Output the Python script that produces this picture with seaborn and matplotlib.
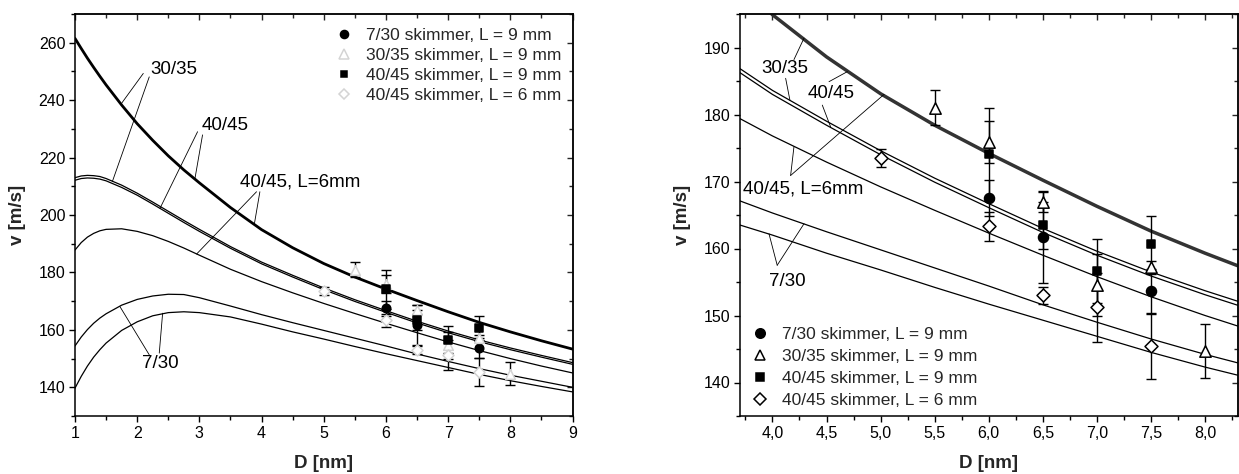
import matplotlib
matplotlib.use("Agg")
import matplotlib.pyplot as plt
import seaborn as sns
from matplotlib.ticker import MultipleLocator, FuncFormatter
from matplotlib.lines import Line2D

# ---------------- data ----------------
D_grid = [1.0, 1.1, 1.2, 1.3, 1.4, 1.5, 1.75, 2.0, 2.25, 2.5, 2.75, 3.0,
          3.5, 4.0, 4.5, 5.0, 5.5, 6.0, 6.5, 7.0, 7.5, 8.0, 8.5, 9.0]
v_thick = [261.5, 258.0, 254.6, 251.4, 248.3, 245.3, 238.3, 231.8, 226.0, 220.6, 215.7, 211.2,
           202.6, 194.9, 188.6, 183.1, 178.4, 174.2, 170.2, 166.3, 162.6, 159.3, 156.2, 153.3]
v_3035 = [213.0, 213.6, 213.8, 213.7, 213.4, 212.7, 210.4, 207.6, 204.5, 201.3, 198.1, 195.0,
          189.0, 183.6, 179.0, 174.6, 170.5, 166.7, 163.0, 159.6, 156.5, 153.7, 151.1, 148.6]
v_4045 = [212.1, 212.7, 212.9, 212.8, 212.5, 211.9, 209.6, 206.9, 203.8, 200.6, 197.4, 194.3,
          188.4, 183.0, 178.4, 174.0, 169.9, 166.1, 162.4, 159.0, 155.9, 153.1, 150.5, 148.0]
v_4045_L6 = [187.8, 190.4, 192.3, 193.6, 194.5, 195.0, 195.2, 194.3, 192.8, 190.8, 188.5, 186.0,
             181.1, 176.8, 172.9, 169.2, 165.7, 162.3, 159.0, 155.8, 152.8, 150.0, 147.4, 145.0]
v_730_a = [154.4, 157.5, 160.1, 162.3, 164.1, 165.6, 168.6, 170.6, 171.8, 172.4, 172.3, 171.2,
           168.3, 165.3, 162.5, 159.8, 157.1, 154.4, 151.6, 149.0, 146.5, 144.2, 142.1, 140.0]
v_730_b = [139.7, 143.8, 147.4, 150.5, 153.1, 155.4, 159.8, 162.8, 164.9, 166.0, 166.3, 166.0,
           164.5, 162.0, 159.3, 156.8, 154.2, 151.7, 149.3, 146.9, 144.5, 142.3, 140.3, 138.4]

# measurements
D_730 = [6.0, 6.5, 7.5]
v_730 = [167.5, 161.7, 153.6]
e_730 = [2.7, 6.9, 3.4]

D_3035 = [5.5, 6.0, 6.5, 7.0, 7.5, 8.0]
v_3035m = [181.0, 175.9, 167.0, 154.6, 157.2, 144.7]
e_3035 = [2.6, 3.2, 1.5, 4.6, 1.0, 4.0]

D_4045 = [6.0, 6.5, 7.0, 7.5]
v_4045m = [174.1, 163.5, 156.6, 160.7]
e_4045 = [6.9, 3.5, 4.8, 4.1]

D_4045L6 = [5.0, 6.0, 6.5, 7.0, 7.5]
v_4045L6m = [173.5, 163.3, 153.0, 151.2, 145.4]
e_4045L6 = [1.3, 2.2, 1.3, 5.2, 4.9]

legend_labels = ["7/30 skimmer, L = 9 mm", "30/35 skimmer, L = 9 mm",
                 "40/45 skimmer, L = 9 mm", "40/45 skimmer, L = 6 mm"]

# curve labels: text, text anchor, pointer segments (start, end)
left_notes = [
    ("30/35", (2.216, 250.5), [((2.098, 249.3), (1.739, 238.6)), ((2.194, 248.1), (1.600, 211.6))]),
    ("40/45", (3.035, 231.3), [((2.971, 229.0), (2.366, 202.3)), ((3.051, 227.9), (2.928, 212.6))]),
    ("40/45, L=6mm", (3.651, 211.6), [((3.919, 208.1), (2.955, 186.4)), ((3.973, 208.1), (3.882, 196.6))]),
    ("7/30", (2.071, 148.4), [((2.194, 151.3), (1.720, 168.2)), ((2.355, 151.9), (2.409, 165.8))]),
]
right_notes = [
    ("30/35", (3.896, 186.8), [((4.199, 188.2), (4.292, 191.4)), ((4.122, 185.4), (4.162, 182.1))]),
    ("40/45", (4.322, 183.2), [((4.523, 184.9), (4.693, 186.4)), ((4.461, 181.4), (4.539, 178.1))]),
    ("40/45, L=6mm", (3.730, 168.9), [((4.168, 170.9), (5.032, 183.0)), ((4.168, 170.9), (4.199, 175.2))]),
    ("7/30", (3.968, 155.0), [((4.044, 157.5), (3.968, 162.2)), ((4.044, 157.5), (4.292, 163.7))]),
]

# ---------------- style ----------------
sns.set_theme(style="ticks")
plt.rcParams["font.family"] = ["Liberation Sans", "DejaVu Sans"]
plt.rcParams["axes.linewidth"] = 1.1

W, H = 1239, 474
fig = plt.figure(figsize=(W / 100, H / 100), dpi=100)
ax1 = fig.add_axes([75 / W, 1 - 416 / H, 497.5 / W, 402 / H])
ax2 = fig.add_axes([740 / W, 1 - 416 / H, 497.5 / W, 402 / H])


def draw_panel(ax, thick_lw, thick_color, open_edge, ms_scale, notes):
    thin = dict(color="black", lw=0.9, estimator=None, sort=False, legend=False)
    for v in (v_3035, v_4045, v_4045_L6, v_730_a, v_730_b):
        sns.lineplot(x=D_grid, y=v, ax=ax, **thin)
    sns.lineplot(x=D_grid, y=v_thick, ax=ax, color=thick_color, lw=thick_lw,
                 estimator=None, sort=False, legend=False)

    series = [
        (D_730, v_730, e_730, "o", "black", "black", 7.2),
        (D_3035, v_3035m, e_3035, "^", "white", open_edge, 8.2),
        (D_4045, v_4045m, e_4045, "s", "black", "black", 6.2),
        (D_4045L6, v_4045L6m, e_4045L6, "D", "white", open_edge, 6.6),
    ]
    handles = []
    for D, v, e, mk, fc, ec, ms in series:
        ax.errorbar(D, v, yerr=e, fmt="none", ecolor="black", elinewidth=1.0,
                    capsize=3.3, capthick=1.0, zorder=4)
    for D, v, e, mk, fc, ec, ms in series:
        ms2 = ms * ms_scale
        sns.scatterplot(x=D, y=v, ax=ax, marker=mk, s=ms2 ** 2, color=fc,
                        edgecolor=ec, linewidth=1.1, zorder=5, legend=False)
        handles.append(Line2D([], [], ls="none", marker=mk, markersize=ms2 * 0.95,
                              markerfacecolor=fc, markeredgecolor=ec, markeredgewidth=1.1))

    for txt, (tx, ty), segs in notes:
        ax.text(tx, ty, txt, fontsize=13.5, ha="left", va="center", color="black", zorder=6)
        for (x0, y0), (x1, y1) in segs:
            ax.plot([x0, x1], [y0, y1], color="black", lw=0.6, zorder=3)
    return handles


h1 = draw_panel(ax1, 2.0, "black", "#d4d4d4", 0.85, left_notes)
h2 = draw_panel(ax2, 2.5, "#333333", "black", 1.0, right_notes)

# ---------------- axes ----------------
ax1.set_xlim(1, 9)
ax1.set_ylim(130, 270)
ax1.xaxis.set_major_locator(MultipleLocator(1))
ax1.xaxis.set_minor_locator(MultipleLocator(0.5))
ax1.yaxis.set_major_locator(MultipleLocator(20))
ax1.yaxis.set_minor_locator(MultipleLocator(10))

ax2.set_xlim(3.7, 8.3)
ax2.set_ylim(135, 195)
ax2.xaxis.set_major_locator(MultipleLocator(0.5))
ax2.xaxis.set_minor_locator(MultipleLocator(0.25))
ax2.yaxis.set_major_locator(MultipleLocator(10))
ax2.yaxis.set_minor_locator(MultipleLocator(5))
ax2.xaxis.set_major_formatter(FuncFormatter(lambda x, p: f"{x:.1f}".replace(".", ",")))

for ax, xmaj, xmin, ymaj, ymin in ((ax1, 1, 0.5, 20, 10), (ax2, 0.5, 0.25, 10, 5)):
    for s in ax.spines.values():
        s.set_visible(True)
        s.set_linewidth(1.1)
        s.set_color("black")
    ax.tick_params(which="major", direction="out", length=4.5, width=1.0,
                   labelsize=11.5, pad=2.5, colors="black")
    ax.tick_params(which="minor", direction="out", length=2.6, width=1.0, colors="black")
    ax.set_xlabel("D [nm]", fontsize=13.5, fontweight="bold", labelpad=10)
    ax.set_ylabel("v [m/s]", fontsize=13.5, fontweight="bold", labelpad=9)
    top = ax.secondary_xaxis("top")
    top.xaxis.set_major_locator(MultipleLocator(xmaj))
    top.xaxis.set_minor_locator(MultipleLocator(xmin))
    top.tick_params(which="major", direction="in", length=4.5, width=1.0, labeltop=False)
    top.tick_params(which="minor", direction="in", length=2.6, width=1.0)
    right = ax.secondary_yaxis("right")
    right.yaxis.set_major_locator(MultipleLocator(ymaj))
    right.yaxis.set_minor_locator(MultipleLocator(ymin))
    right.tick_params(which="major", direction="in", length=4.5, width=1.0, labelright=False)
    right.tick_params(which="minor", direction="in", length=2.6, width=1.0)

leg_kw = dict(frameon=False, fontsize=12.5, handlelength=1.0, handletextpad=0.8,
              labelspacing=0.27, borderpad=0, borderaxespad=0)
ax1.legend(h1, legend_labels, loc="upper left",
           bbox_to_anchor=((335 - 75) / 497.5, 1 - (28 - 14) / 402), **leg_kw)
ax2.legend(h2, legend_labels, loc="lower left",
           bbox_to_anchor=((751 - 740) / 497.5, (416 - 408) / 402),
           **dict(leg_kw, labelspacing=0.4))

fig.savefig("out.png", dpi=100)
